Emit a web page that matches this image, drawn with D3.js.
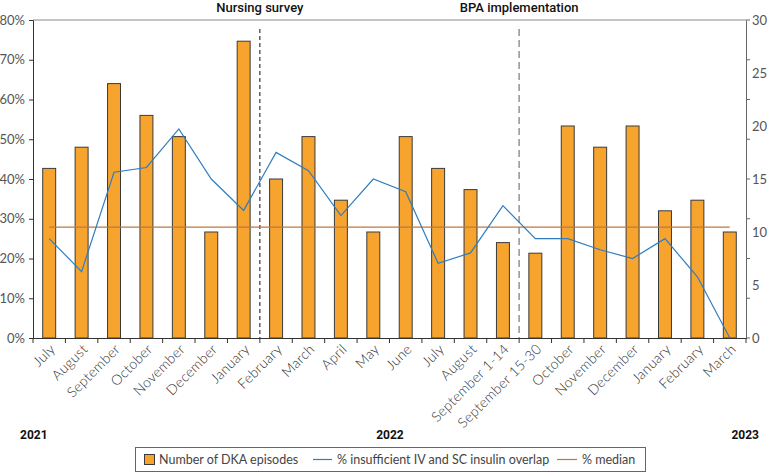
<!DOCTYPE html>
<html>
<head>
<meta charset="utf-8">
<script src="https://cdn.jsdelivr.net/npm/d3@7"></script>
<style>
body { margin: 0; background: #fff; }
svg { display: block; font-family: Lato, "Open Sans", sans-serif; }
</style>
</head>
<body>
<script>
// data
const months = ["July", "August", "September", "October", "November", "December", "January",
  "February", "March", "April", "May", "June", "July", "August", "September 1-14", "September 15-30",
  "October", "November", "December", "January", "February", "March"];
const episodes = [16, 18, 24, 21, 19, 10, 28, 15, 19, 13, 10, 19, 16, 14, 9, 8, 20, 18, 20, 12, 13, 10];
const pctOverlap = [25, 16.7, 41.7, 42.9, 52.6, 40, 32.1, 46.7, 42.1, 30.8, 40, 36.8, 18.8, 21.4, 33.3, 25,
  25, 22.2, 20, 25, 15.4, 0];
const pctMedian = 27.9;
const leftTicks = [0, 10, 20, 30, 40, 50, 60, 70, 80];
const rightTicks = [0, 5, 10, 15, 20, 25, 30];
const years = ["2021", "2022", "2023"];
const events = [{ label: "Nursing survey", after: 6, dash: "4,3", color: "#222" },
  { label: "BPA implementation", after: 14, dash: "7,4", color: "#9a9a9a" }];

const width = 770, height = 472;
const mLeft = 33, mRight = 746, mTop = 20, mBottom = 338;

const svg = d3.select("body").append("svg")
  .attr("width", width)
  .attr("height", height);

const idx = d3.range(months.length);

// category slots (for ticks) and bars inside them
const xCat = d3.scaleBand().domain(idx).range([mLeft, mRight]).padding(0);
const xBar = d3.scaleBand().domain(idx).range([mLeft, mRight]).paddingInner(0.6).paddingOuter(0.3);
const yL = d3.scaleLinear().domain([0, 80]).range([mBottom, mTop]);
const yR = d3.scaleLinear().domain([0, 30]).range([mBottom, mTop]);

// top border
svg.append("line")
  .attr("x1", mLeft).attr("x2", mRight)
  .attr("y1", mTop).attr("y2", mTop)
  .attr("stroke", "#8a8a8a");

// bars
svg.selectAll("rect.bar")
  .data(episodes)
  .enter()
  .append("rect")
  .attr("class", "bar")
  .attr("x", (d, i) => xBar(i))
  .attr("y", d => yR(d))
  .attr("width", xBar.bandwidth())
  .attr("height", d => yR(0) - yR(d))
  .attr("fill", "#f6a42e")
  .attr("stroke", "#3a3a3a")
  .attr("stroke-width", 1);

// event dashed lines
events.forEach(e => {
  const xp = xCat(e.after) + xCat.bandwidth();
  svg.append("line")
    .attr("x1", xp).attr("x2", xp)
    .attr("y1", 29).attr("y2", mBottom)
    .attr("stroke", e.color)
    .attr("stroke-width", e.after > 10 ? 1.6 : 1.1)
    .attr("stroke-dasharray", e.dash);
  svg.append("text")
    .attr("x", xp)
    .attr("y", 12)
    .attr("text-anchor", "middle")
    .style("font-family", "Roboto, sans-serif")
    .style("font-weight", 500)
    .style("font-size", "13px")
    .attr("fill", "#111")
    .text(e.label);
});

// median line
const cx = i => xCat(i) + xCat.bandwidth() / 2;
svg.append("line")
  .attr("x1", cx(0)).attr("x2", cx(months.length - 1))
  .attr("y1", yL(pctMedian)).attr("y2", yL(pctMedian))
  .attr("stroke", "#bd7840")
  .attr("stroke-width", 1.2);

// % line
const line = d3.line()
  .x((d, i) => cx(i))
  .y(d => yL(d));

svg.append("path")
  .datum(pctOverlap)
  .attr("d", line)
  .attr("fill", "none")
  .attr("stroke", "#2f7dc0")
  .attr("stroke-width", 1.2);

// left axis
const axL = svg.append("g")
  .attr("transform", `translate(${mLeft},0)`)
  .call(d3.axisLeft(yL).tickValues(leftTicks).tickSize(4).tickPadding(4).tickFormat(d => d + "%"));
axL.select(".domain").attr("stroke", "#333");
axL.selectAll(".tick line").attr("stroke", "#333");
axL.selectAll("text").style("font-size", "13px").attr("fill", "#555").style("font-family", "Lato, sans-serif");

// right axis
const axR = svg.append("g")
  .attr("transform", `translate(${mRight},0)`)
  .call(d3.axisRight(yR).tickValues(rightTicks).tickSize(0).tickPadding(6));
axR.select(".domain").attr("stroke", "#666");
axR.selectAll("text").style("font-size", "13px").attr("fill", "#555").style("font-family", "Lato, sans-serif");
axR.selectAll("line.minor")
  .data(leftTicks)
  .enter()
  .append("line")
  .attr("class", "minor")
  .attr("x1", 0).attr("x2", 4)
  .attr("y1", d => yL(d)).attr("y2", d => yL(d))
  .attr("stroke", "#666");

// bottom axis
const axB = svg.append("g")
  .attr("transform", `translate(0,${mBottom})`)
  .call(d3.axisBottom(xCat).tickSize(0).tickFormat(i => months[i]));
axB.select(".domain").attr("stroke", "#333");
axB.selectAll(".tick text")
  .style("font-size", "14px")
  .style("font-weight", 300)
  .style("letter-spacing", "0.3px")
  .style("font-family", "Lato, sans-serif")
  .attr("fill", "#333")
  .attr("text-anchor", "end")
  .attr("y", 0)
  .attr("dy", "0")
  .attr("transform", "translate(7,12) rotate(-45)");
axB.selectAll("line.sep")
  .data(idx.concat([months.length]))
  .enter()
  .append("line")
  .attr("class", "sep")
  .attr("x1", i => i < months.length ? xCat(i) : mRight)
  .attr("x2", i => i < months.length ? xCat(i) : mRight)
  .attr("y1", 0).attr("y2", 5)
  .attr("stroke", "#333");

// year labels
svg.selectAll("text.year")
  .data(years)
  .enter()
  .append("text")
  .attr("class", "year")
  .attr("x", (d, i) => [20, 390, 759][i])
  .attr("y", 439)
  .attr("text-anchor", (d, i) => ["start", "middle", "end"][i])
  .style("font-family", "Roboto, sans-serif")
  .style("font-weight", 700)
  .style("font-size", "12px")
  .attr("fill", "#111")
  .text(d => d);

// legend
const lg = svg.append("g");
lg.append("rect")
  .attr("x", 135.5).attr("y", 447.5)
  .attr("width", 510).attr("height", 24)
  .attr("fill", "#fff")
  .attr("stroke", "#666");
lg.append("rect")
  .attr("x", 144.5).attr("y", 454.5)
  .attr("width", 10).attr("height", 10)
  .attr("fill", "#f6a42e")
  .attr("stroke", "#3a3a3a");
lg.append("line")
  .attr("x1", 313).attr("x2", 332).attr("y1", 459.5).attr("y2", 459.5)
  .attr("stroke", "#2f7dc0").attr("stroke-width", 1.2);
lg.append("line")
  .attr("x1", 557).attr("x2", 577).attr("y1", 459.5).attr("y2", 459.5)
  .attr("stroke", "#bd7840").attr("stroke-width", 1.2);
const legendText = [["Number of DKA episodes", 159], ["% insufficient IV and SC insulin overlap", 337], ["% median", 582]];
lg.selectAll("text")
  .data(legendText)
  .enter()
  .append("text")
  .attr("x", d => d[1])
  .attr("y", 464)
  .style("font-size", "12.5px")
  .style("font-family", "Lato, sans-serif")
  .attr("fill", "#444")
  .text(d => d[0]);
</script>
</body>
</html>
